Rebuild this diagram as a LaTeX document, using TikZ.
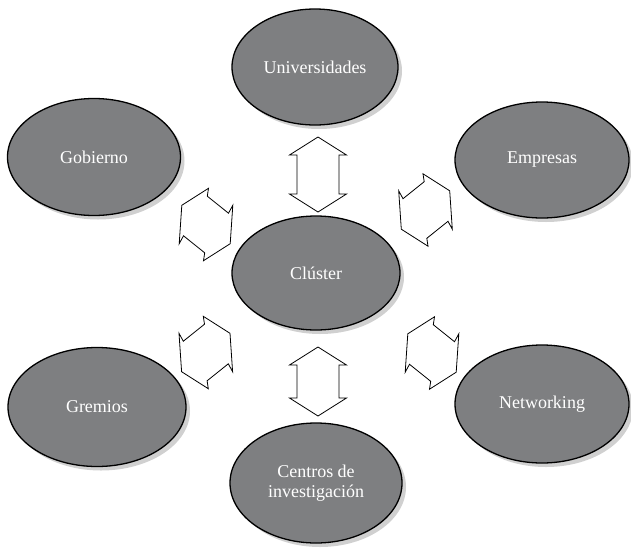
\documentclass[tikz,border=0pt]{standalone}
\usepackage{fontspec}
\setmainfont{Liberation Serif}
\usetikzlibrary{shapes.geometric,shadows}
\definecolor{bubblegray}{HTML}{7E7F81}
\definecolor{shadegray}{HTML}{D0D0D0}

% slanted double block arrow; #1 centre, #2 = 1 or -1 (mirror image)
\newcommand\slantarrow[2]{%
  \draw[blockarrow, shift={(#1)}, xscale=#2]
    (2.5,-36.2) -- (-24.2,-19.2) -- (-26.8,19.2) -- (-22.5,11.3) -- (-1.3,28.3)
    -- (-2.5,36.2) -- (24.2,19.2) -- (26.8,-19.2) -- (22.5,-11.3) -- (1.3,-28.3) -- cycle;}
% upright double block arrow; #1 centre, #2 half length
\newcommand\uprightarrow[2]{%
  \draw[blockarrow, shift={(#1)}]
    (0,-#2) -- (28.5,{-#2+18}) -- (21,{-#2+18}) -- (21,{#2-18}) -- (28.5,{#2-18})
    -- (0,#2) -- (-28.5,{#2-18}) -- (-21,{#2-18}) -- (-21,{-#2+18}) -- (-28.5,{-#2+18}) -- cycle;}

\begin{document}
\begin{tikzpicture}[x=1pt,y=-1pt,
  bubble/.style={ellipse, draw=black, line width=1.3pt, fill=bubblegray, text=white,
    inner sep=0pt, align=center, font=\fontsize{18}{20}\selectfont,
    drop shadow={shadow xshift=4pt, shadow yshift=-4pt, fill=shadegray, opacity=1}},
  oval/.style 2 args={minimum width=#1pt, minimum height=#2pt},
  blockarrow/.style={draw=black, line width=0.8pt, fill=white, line join=miter}]
\useasboundingbox (0,0) rectangle (631,549);

% actors around the cluster
\node[bubble, oval={166}{116}] (uni) at (315,67)  {Universidades};
\node[bubble, oval={173}{117}] (gob) at (94,157)  {Gobierno};
\node[bubble, oval={174}{116}] (emp) at (542,160) {Empresas};
\node[bubble, oval={168}{114}] (clu) at (316,273) {Clúster};
\node[bubble, oval={178}{119}] (gre) at (97,407)  {Gremios};
\node[bubble, oval={174}{118}] (net) at (542,404) {Networking};
\node[bubble, oval={172}{120}] (cen) at (316,483) {Centros de\\investigación};

% exchange arrows between each actor and the cluster
\coordinate (a-uni) at (318,174.5);
\coordinate (a-cen) at (318,381.5);
\coordinate (a-gob) at (206,224.5);
\coordinate (a-emp) at (425.5,210);
\coordinate (a-gre) at (205.8,352.5);
\coordinate (a-net) at (432,353);

\uprightarrow{a-uni}{37.5}
\uprightarrow{a-cen}{34.5}
\slantarrow{a-gob}{1}
\slantarrow{a-emp}{-1}
\slantarrow{a-gre}{-1}
\slantarrow{a-net}{1}
\end{tikzpicture}
\end{document}
